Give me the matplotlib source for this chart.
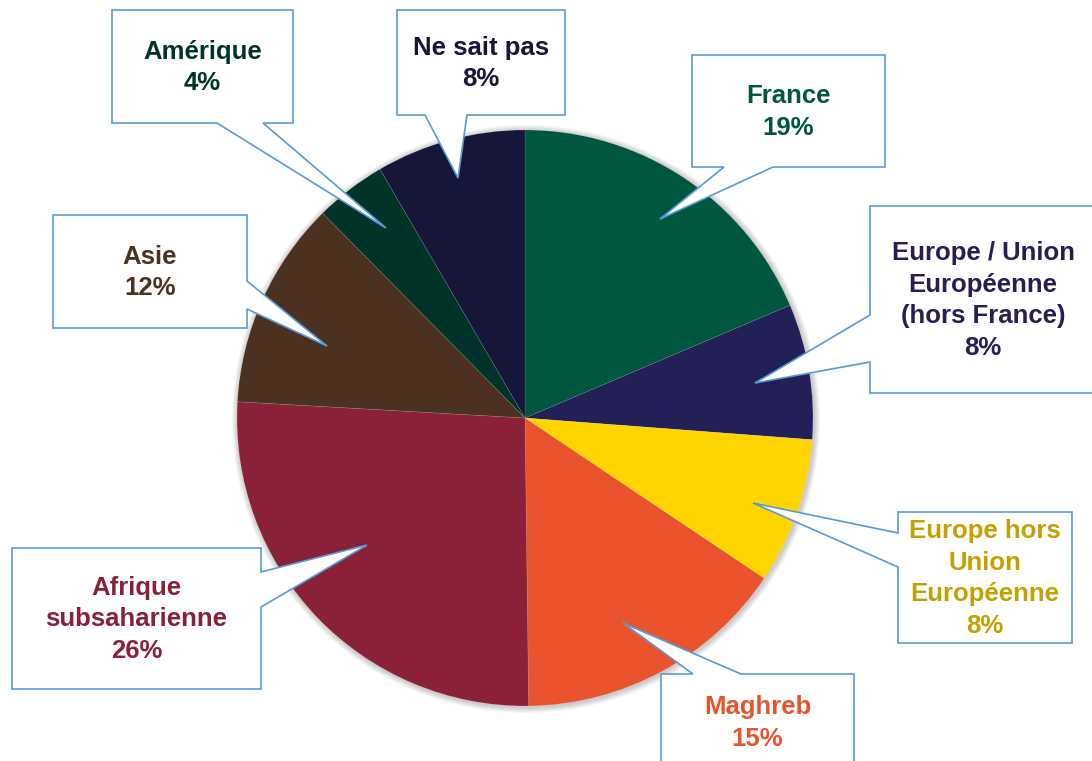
"""Pie chart with speech-bubble callouts"""
import matplotlib
matplotlib.use("Agg")
import matplotlib.pyplot as plt
from matplotlib.patches import Polygon, Circle

W, H = 1092, 761

labels = ["France", "Europe / Union\nEuropéenne\n(hors France)",
          "Europe hors\nUnion\nEuropéenne", "Maghreb",
          "Afrique\nsubsaharienne", "Asie", "Amérique", "Ne sait pas"]
# slice sizes; printed labels are the rounded values
values = [18.6, 7.6, 8.2, 15.4, 26.1, 11.7, 4.0, 8.4]
pct_labels = ["19%", "8%", "8%", "15%", "26%", "12%", "4%", "8%"]
slice_colors = ["#00573F", "#222057", "#FFD500", "#E9542F",
                "#8B2138", "#4B3121", "#003428", "#16163A"]
text_colors = ["#00573F", "#222057", "#C4A000", "#E9542F",
               "#8B2138", "#4B3121", "#003428", "#16163A"]

# callout geometry in pixels (from top-left): box, side with pointer, pointer base, tip
boxes = [(692, 55, 885, 167), (870, 206, 1096, 393), (898, 512, 1072, 643),
         (661, 674, 854, 770), (12, 548, 261, 689), (53, 215, 247, 328),
         (112, 10, 293, 123), (397, 10, 565, 115)]
sides = ["bottom", "left", "left", "top", "right", "right", "bottom", "bottom"]
bases = [(724, 773), (315, 362), (533, 567), (693, 741),
         (572, 607), (281, 309), (217, 263), (425, 467)]
tips = [(660, 219), (755, 383), (753, 503), (623, 623),
        (367, 545), (327, 346), (386, 228), (458, 178)]


def callout_path(box, side, base, tip):
    l, t, r, b = box
    pts = []
    if side == "bottom":
        pts = [(l, t), (r, t), (r, b), (base[1], b), tip, (base[0], b), (l, b)]
    elif side == "top":
        pts = [(l, t), (base[0], t), tip, (base[1], t), (r, t), (r, b), (l, b)]
    elif side == "left":
        pts = [(l, t), (r, t), (r, b), (l, b), (l, base[1]), tip, (l, base[0])]
    elif side == "right":
        pts = [(l, t), (r, t), (r, base[0]), tip, (r, base[1]), (r, b), (l, b)]
    return [(x, H - y) for x, y in pts]


fig = plt.figure(figsize=(W / 100, H / 100), dpi=100)
ax = fig.add_axes([0, 0, 1, 1])

cx, cy, rad = 525, H - 418, 288

# soft shadow around the pie
for k in range(1, 7):
    ax.add_patch(Circle((cx + 1, cy - 1), rad + k, color="#000000",
                        alpha=0.035, lw=0, zorder=0))

ax.pie(values, colors=slice_colors, startangle=90, counterclock=False,
       center=(cx, cy), radius=rad, frame=True,
       wedgeprops=dict(linewidth=0.4, edgecolor="#ffffff30"))
ax.set_xlim(0, W)
ax.set_ylim(0, H)
ax.set_aspect("equal")
ax.axis("off")

for i, lab in enumerate(labels):
    poly = Polygon(callout_path(boxes[i], sides[i], bases[i], tips[i]),
                   closed=True, facecolor="white", edgecolor="#5B9BD5",
                   linewidth=1.2, zorder=5, joinstyle="miter")
    ax.add_patch(poly)
    l, t, r, b = boxes[i]
    ax.text((l + r) / 2, H - (t + b) / 2 - 1, f"{lab}\n{pct_labels[i]}",
            ha="center", va="center", color=text_colors[i],
            fontsize=18.5, fontweight="bold", family="Liberation Sans",
            linespacing=1.4, zorder=6)

fig.savefig("out.png", dpi=100)
